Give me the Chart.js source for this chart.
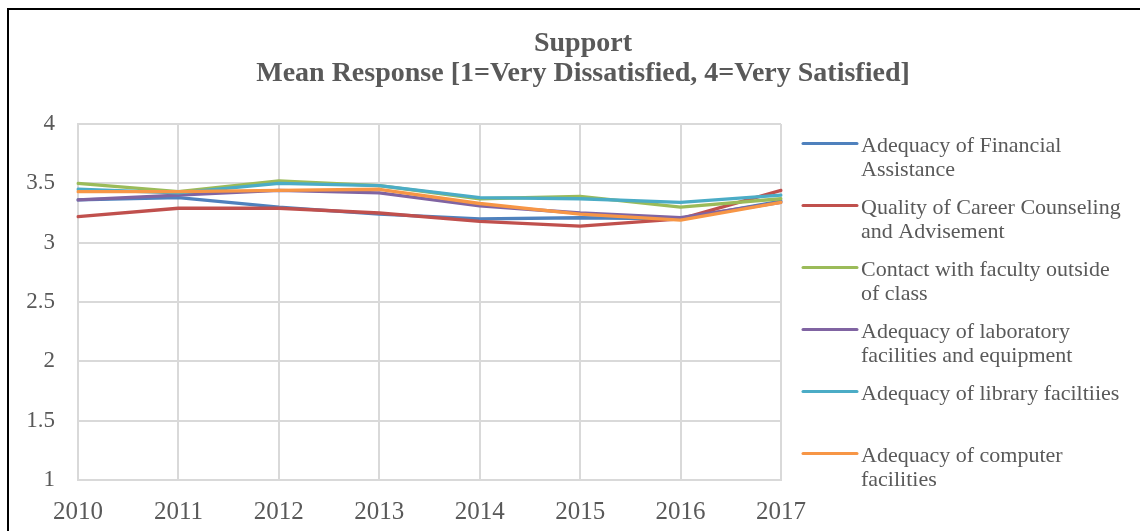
<!DOCTYPE html>
<html>
<head>
<meta charset="utf-8">
<script src="https://cdn.jsdelivr.net/npm/chart.js@4/dist/chart.umd.min.js"></script>
<style>
  html, body { margin: 0; padding: 0; background: #ffffff; }
  #wrap { position: relative; width: 1140px; height: 531px; }
</style>
</head>
<body>
<div id="wrap"><canvas id="c" width="1140" height="531"></canvas></div>
<script>
// ---- data ----
const titleLines = ["Support", "Mean Response [1=Very Dissatisfied, 4=Very Satisfied]"];
const years = ["2010", "2011", "2012", "2013", "2014", "2015", "2016", "2017"];
const seriesNames = [
  "Adequacy of Financial\nAssistance",
  "Quality of Career Counseling\nand Advisement",
  "Contact with faculty outside\nof class",
  "Adequacy of laboratory\nfacilities and equipment",
  "Adequacy of library faciltiies",
  "Adequacy of computer\nfacilities"
];
const financialAssistance = [3.36, 3.38, 3.30, 3.24, 3.20, 3.21, 3.20, 3.35];
const careerCounseling    = [3.22, 3.29, 3.29, 3.25, 3.18, 3.14, 3.20, 3.44];
const facultyContact      = [3.50, 3.43, 3.52, 3.48, 3.37, 3.39, 3.30, 3.37];
const laboratoryFacilities= [3.36, 3.40, 3.44, 3.42, 3.31, 3.25, 3.21, 3.34];
const libraryFacilities   = [3.45, 3.42, 3.50, 3.48, 3.38, 3.37, 3.34, 3.40];
const computerFacilities  = [3.43, 3.43, 3.44, 3.45, 3.33, 3.24, 3.19, 3.34];
const yMin = 1, yMax = 4, yStep = 0.5;

// ---- styles ----
const seriesValues = [financialAssistance, careerCounseling, facultyContact,
                      laboratoryFacilities, libraryFacilities, computerFacilities];
const seriesColors = ["#4F81BD", "#C0504D", "#9BBB59", "#8064A2", "#4BACC6", "#F79646"];
const FONT = "'Liberation Serif', 'Times New Roman', serif";
const TEXT = "#595959";
const GRID = "#d9d9d9";

const frameAndLegend = {
  id: 'frameAndLegend',
  beforeDraw(chart) {
    const ctx = chart.ctx;
    ctx.save();
    ctx.fillStyle = '#ffffff';
    ctx.fillRect(0, 0, chart.width, chart.height);
    ctx.fillStyle = '#000000';
    ctx.fillRect(7, 8, 2, chart.height - 8);
    ctx.fillRect(7, 8, chart.width - 7, 2);
    ctx.restore();
  },
  afterDraw(chart) {
    const ctx = chart.ctx;
    const area = chart.chartArea;
    const x0 = area.right + 22;
    const lineLen = 54;
    const top = area.top + 19.5;
    const step = 62;
    ctx.save();
    ctx.font = "22px " + FONT;
    ctx.textAlign = 'left';
    ctx.textBaseline = 'alphabetic';
    seriesNames.forEach((name, i) => {
      const y = top + i * step;
      ctx.strokeStyle = seriesColors[i];
      ctx.lineWidth = 3;
      ctx.lineCap = 'round';
      ctx.beginPath();
      ctx.moveTo(x0, y);
      ctx.lineTo(x0 + lineLen, y);
      ctx.stroke();
      ctx.fillStyle = TEXT;
      name.split("\n").forEach((line, j) => {
        ctx.fillText(line, x0 + lineLen + 4, y + 8 + j * 24.5);
      });
    });
    ctx.restore();
  }
};

const datasets = seriesValues.map((vals, i) => ({
  label: seriesNames[i].replace("\n", " "),
  data: vals,
  borderColor: seriesColors[i],
  backgroundColor: seriesColors[i],
  borderWidth: 3.3,
  pointRadius: 0,
  pointHoverRadius: 0,
  tension: 0,
  fill: false,
  borderJoinStyle: 'round',
  borderCapStyle: 'round',
  order: seriesValues.length - i,
  yAxisID: 'y'
}));

new Chart(document.getElementById('c'), {
  type: 'line',
  data: { labels: years, datasets: datasets },
  plugins: [frameAndLegend],
  options: {
    responsive: false,
    animation: false,
    events: [],
    layout: { padding: { left: 26, right: 0, top: 0, bottom: 0 } },
    plugins: {
      legend: { display: false },
      tooltip: { enabled: false },
      title: {
        display: true,
        text: titleLines,
        color: TEXT,
        font: { family: FONT, size: 28, weight: 'bold', lineHeight: 30.5 / 28 },
        padding: { top: 28.25, bottom: 34.75 },
        fullSize: true
      }
    },
    scales: {
      x: {
        offset: false,
        grid: { color: GRID, lineWidth: 2, drawTicks: false },
        border: { color: GRID, width: 2 },
        ticks: { color: TEXT, font: { family: FONT, size: 25 }, padding: 17, maxRotation: 0, autoSkip: false },
        afterFit(s) { s.height = 51; }
      },
      y: {
        position: 'left',
        min: yMin, max: yMax,
        grid: { color: GRID, lineWidth: 2, drawTicks: false },
        border: { color: GRID, width: 2 },
        ticks: {
          stepSize: yStep, color: TEXT, font: { family: FONT, size: 23 }, padding: 23,
          callback: (v) => String(Number(v))
        },
        afterFit(s) { s.width = 52; }
      },
      legendSpace: {
        type: 'linear',
        position: 'right',
        display: true,
        grid: { display: false, drawTicks: false },
        border: { display: false },
        ticks: { display: false },
        afterFit(s) { s.width = 359; }
      }
    }
  }
});
</script>
</body>
</html>
